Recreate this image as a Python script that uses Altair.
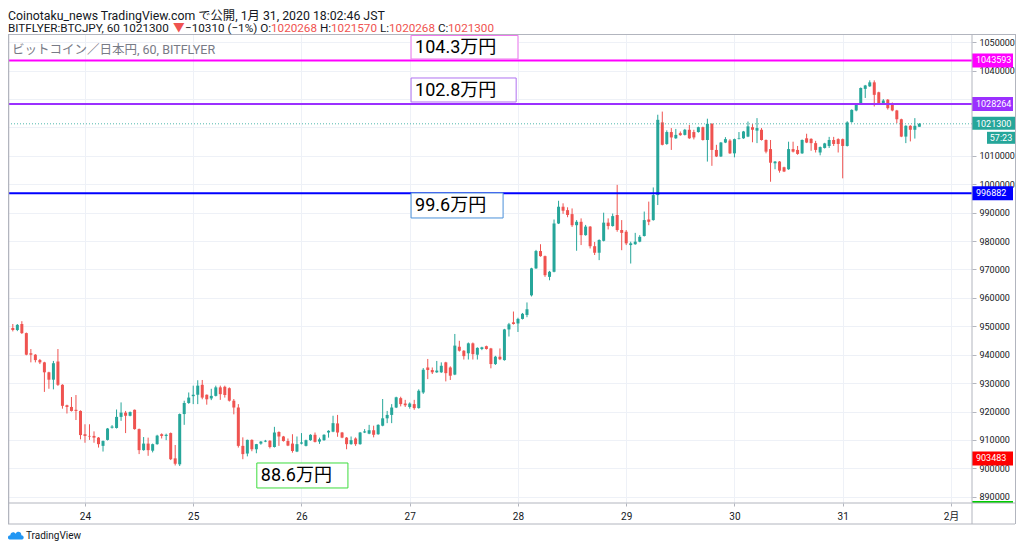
import altair as alt
import pandas as pd

# ---------------- data (BITFLYER BTC/JPY, 1h candles) ----------------
FIRST_HOUR = -16  # hours relative to Jan 24 00:00 JST

opens = [
    949400, 948700, 950800, 947600, 940500, 940000, 938100, 937300, 933800, 931200,
    937600, 929400, 922200, 921600, 920600, 920200, 912000, 911400, 911400, 910800,
    907900, 910000, 914300, 914200, 918100, 919600, 918500, 920600, 913800, 906400,
    908700, 906200, 908500, 912000, 911400, 912400, 903500, 901400, 919100, 923000,
    925400, 925900, 929400, 925900, 924600, 925500, 928500, 928700, 928200, 923800,
    921400, 907900, 905200, 910000, 906700, 908700, 909400, 909700, 907500, 912800,
    911200, 909600, 908700, 905900, 908700, 907900, 909900, 911800, 909400, 909900,
    912600, 912900, 915800, 912600, 910800, 908500, 910500, 908500, 912600, 912200,
    913400, 912000, 915000, 917600, 918800, 921400, 924700, 922800, 921600, 922600,
    921200, 926700, 935500, 934600, 933800, 933800, 937300, 935500, 933000, 942800,
    941400, 940500, 944000, 940000, 942000, 943000, 942200, 936700, 939300, 938100,
    948900, 951400, 951000, 952600, 954000, 960900, 970400, 976500, 974700, 967400,
    969200, 986200, 992100, 990900, 989500, 985600, 986800, 982100, 985100, 978200,
    975900, 980100, 986500, 985300, 989200, 983900, 983300, 978600, 978900, 979800,
    981800, 987600, 987400, 996200, 1021800, 1014200, 1018400, 1016200, 1018000, 1017400,
    1019200, 1018400, 1018400, 1020100, 1015600, 1021300, 1012100, 1009800, 1014700, 1015400,
    1010900, 1016000, 1016200, 1016800, 1020100, 1018900, 1019200, 1015600, 1012400, 1007400,
    1008000, 1006000, 1005300, 1012400, 1012100, 1010900, 1016200, 1016000, 1014500, 1011200,
    1012800, 1013500, 1015600, 1015900, 1015900, 1013500, 1021900, 1026000, 1028200, 1033600,
    1034500, 1035900, 1032400, 1028600, 1029800, 1028600, 1026000, 1022900, 1016800, 1020600,
    1019200, 1020268,
]
highs = [
    950800, 950800, 951800, 947800, 942000, 940200, 938500, 937500, 934000, 937800,
    942000, 929600, 922400, 925100, 925800, 920400, 915500, 915500, 913000, 911000,
    909800, 914200, 915200, 920700, 923200, 920200, 920000, 920700, 914000, 911000,
    910800, 908700, 911800, 912300, 912200, 912600, 908200, 919300, 923800, 926700,
    929100, 931000, 931100, 926000, 928000, 929100, 929100, 929100, 928500, 924400,
    922600, 910900, 910100, 910200, 908600, 909600, 910000, 909900, 914600, 913000,
    911400, 910500, 912000, 911200, 912400, 910100, 912000, 912600, 910800, 912000,
    913400, 918500, 918800, 912800, 911000, 911200, 910900, 912800, 913800, 915300,
    915000, 915500, 924400, 920200, 922600, 925200, 925200, 924100, 923200, 924100,
    927800, 935300, 938500, 935500, 937800, 937300, 937500, 935900, 947300, 944900,
    941600, 944300, 944300, 942600, 942800, 943200, 942400, 939600, 942200, 949100,
    951200, 955200, 953000, 954700, 958400, 970600, 976900, 978900, 974900, 969500,
    987600, 994200, 993300, 991900, 991500, 987400, 988000, 985700, 985300, 979700,
    980600, 990000, 988000, 989700, 999800, 987400, 983900, 979800, 982900, 982100,
    990400, 993900, 998900, 1024500, 1025600, 1019000, 1019800, 1019500, 1018600, 1019500,
    1020900, 1019200, 1020300, 1020300, 1023100, 1021500, 1013900, 1014900, 1016600, 1015900,
    1016100, 1018400, 1018800, 1022100, 1021200, 1023300, 1019800, 1015800, 1015600, 1008200,
    1008200, 1006200, 1015000, 1015000, 1013500, 1015800, 1017800, 1016200, 1015300, 1013300,
    1014600, 1016700, 1016700, 1016200, 1016100, 1022200, 1026400, 1028600, 1034100, 1035000,
    1036600, 1036600, 1032600, 1030000, 1030000, 1028800, 1026200, 1023100, 1020800, 1020800,
    1023300, 1021570,
]
lows = [
    948200, 948300, 947300, 939800, 937300, 937300, 936700, 926900, 928000, 927800,
    929000, 921000, 919300, 920000, 917000, 910200, 909000, 910000, 909000, 907300,
    905900, 909800, 914000, 914000, 916700, 912400, 918300, 913600, 905000, 906200,
    904400, 905600, 908300, 910500, 909900, 902900, 901000, 900800, 915300, 922700,
    922600, 922600, 924300, 922400, 924000, 925300, 924100, 924900, 923500, 919000,
    907300, 903200, 904200, 906000, 905300, 908300, 909200, 907000, 907300, 907900,
    909400, 907800, 905500, 905700, 908400, 907700, 909700, 909100, 908600, 909700,
    910800, 912700, 911100, 910600, 906700, 908300, 907900, 908300, 912400, 912000,
    910900, 911800, 914800, 915900, 915900, 921200, 921800, 921600, 921000, 920600,
    921000, 926200, 931400, 933200, 933600, 933600, 930600, 931100, 932800, 941100,
    938300, 938300, 938300, 938300, 941600, 941800, 935200, 936400, 938100, 937900,
    946400, 950600, 948000, 952400, 953200, 960500, 970200, 974500, 967400, 966200,
    969000, 986000, 989600, 988400, 985000, 976600, 978600, 981900, 977400, 975100,
    973300, 979900, 984100, 985100, 983300, 976800, 978600, 972100, 978700, 979600,
    981600, 985600, 987200, 992700, 1013700, 1013900, 1012100, 1016000, 1017100, 1017200,
    1016000, 1015800, 1018200, 1015400, 1008000, 1006500, 1009600, 1009600, 1014500, 1010700,
    1009500, 1015800, 1016000, 1016600, 1014800, 1014500, 1015400, 1010900, 1000900, 1005300,
    1004100, 1004300, 1005100, 1011200, 1010400, 1010700, 1014500, 1011800, 1011200, 1010200,
    1012600, 1012800, 1013500, 1011200, 1002100, 1013300, 1021700, 1025700, 1028000, 1030400,
    1034300, 1027400, 1028100, 1028400, 1026300, 1025700, 1021500, 1016600, 1014500, 1015100,
    1016100, 1020268,
]
closes = [
    948700, 950500, 947600, 940000, 940000, 938100, 937300, 933800, 931200, 937000,
    929400, 922000, 921600, 920200, 920200, 911700, 911400, 911200, 910800, 908500,
    909600, 914000, 914700, 918100, 919600, 918500, 919800, 913800, 906400, 908700,
    906400, 908500, 911500, 911400, 911800, 903200, 901600, 919100, 923000, 924900,
    925900, 929100, 924900, 924300, 925500, 928500, 926100, 925800, 923800, 921400,
    907900, 905000, 910000, 906700, 908500, 909400, 909700, 907500, 912600, 911200,
    909600, 908000, 906100, 908500, 909100, 909900, 911800, 909300, 910200, 911800,
    913200, 915900, 912600, 910800, 908500, 909900, 908500, 912600, 913000, 913400,
    911800, 915300, 917600, 918800, 921400, 925000, 922600, 922200, 922800, 921200,
    927300, 934700, 934600, 933800, 934400, 936100, 933500, 932600, 943200, 941400,
    939500, 944000, 940200, 942400, 942600, 942000, 936700, 939300, 938400, 948900,
    950700, 950800, 952600, 954400, 956000, 970400, 976500, 974700, 968000, 969200,
    986200, 992100, 990700, 989200, 985600, 986800, 982100, 985100, 978200, 975900,
    980400, 986500, 985300, 988800, 983900, 982900, 979200, 979200, 979800, 981500,
    987400, 986800, 996200, 1022700, 1013900, 1018400, 1016500, 1017400, 1017300, 1019200,
    1016200, 1016500, 1020100, 1015600, 1021300, 1012100, 1009800, 1014700, 1015900, 1010900,
    1015900, 1016200, 1018600, 1020400, 1019200, 1019800, 1015600, 1011500, 1007600, 1008000,
    1004800, 1004500, 1012400, 1011500, 1010700, 1015600, 1014700, 1014500, 1012100, 1013100,
    1014400, 1015600, 1014200, 1014200, 1013500, 1021800, 1026200, 1028200, 1033900, 1034800,
    1035900, 1031500, 1028600, 1029500, 1026800, 1026000, 1022900, 1016800, 1020600, 1019200,
    1020600, 1021300,
]

day_hours = [0, 24, 48, 72, 96, 120, 144, 168, 192]
day_labels = ["24", "25", "26", "27", "28", "29", "30", "31", "2月"]
price_ticks = list(range(890000, 1050001, 10000))
covered_ticks = [1020000, 1030000]  # labels hidden behind the price tags

level_prices = [1043593, 1028264, 996882]
level_colors = ["#ff00ff", "#9b30ff", "#0000ff"]
last_price = 1021300

ann_text = ["104.3万円", "102.8万円", "99.6万円", "88.6万円"]
ann_h0 = [72.3, 72.3, 72.3, 38.1]
ann_h1 = [96.0, 95.6, 92.7, 58.3]
ann_top = [1052400, 1037430, 996940, 901870]
ann_bot = [1044120, 1028980, 988140, 893070]
ann_color = ["#ee77ee", "#b071f0", "#4a90d9", "#3ddc3d"]

tag_prices = [1043593, 1028264, 996882, 903483]
tag_colors = ["#ff00ff", "#9b30ff", "#0000ff", "#ff0000"]
hidden_tag_price = 886000  # 88.6万 line, below the visible range

# ---------------- styling ----------------
FONT = "Roboto, 'Noto Sans CJK JP', sans-serif"
UP, DOWN = "#26a69a", "#ef5350"
W, H = 964, 469
FRAME = "#b2b5be"

hours = list(range(FIRST_HOUR, FIRST_HOUR + len(opens)))
df = pd.DataFrame({"h": hours, "o": opens, "hi": highs, "lo": lows, "c": closes})
df["dir"] = ["up" if c >= o else "down" for o, c in zip(opens, closes)]

xs = alt.Scale(domain=[-17.07, 196.67], nice=False, zero=False, padding=0)
ys = alt.Scale(domain=[887782, 1052922], nice=False, zero=False, padding=0)

label_expr = "[" + ",".join("'%s'" % l for l in day_labels) + "][round(datum.value/24)]"
ylabel_expr = " || ".join("datum.value == %d" % v for v in covered_ticks) + " ? '' : datum.label"
xaxis = alt.Axis(values=day_hours, labelExpr=label_expr, title=None, grid=True,
                 gridColor="#eef1f7", domain=False, tickSize=3, tickColor=FRAME,
                 labelFontSize=10, labelColor="#131722", labelFont=FONT,
                 labelPadding=5, labelFlush=False, labelOverlap=False)
yaxis = alt.Axis(orient="right", values=price_ticks, format="d", labelExpr=ylabel_expr,
                 title=None, grid=True,
                 gridColor="#eef1f7", domain=False, tickSize=4, tickColor=FRAME,
                 labelFontSize=9, labelColor="#131722", labelFont=FONT,
                 labelPadding=3, labelOverlap=False)

X = alt.X("h:Q", scale=xs, axis=xaxis)
dir_color = alt.Color("dir:N", scale=alt.Scale(domain=["up", "down"], range=[UP, DOWN]), legend=None)

wicks = alt.Chart(df).mark_rule(strokeWidth=1).encode(
    x=X, y=alt.Y("lo:Q", scale=ys, axis=yaxis), y2="hi:Q", color=dir_color)
bodies = alt.Chart(df).mark_bar(width=3).encode(
    x=X, y=alt.Y("o:Q", scale=ys, axis=yaxis), y2="c:Q", color=dir_color)

lv = pd.DataFrame({"p": level_prices, "col": level_colors})
levels = alt.Chart(lv).mark_rule(strokeWidth=2).encode(
    y=alt.Y("p:Q", scale=ys, axis=yaxis), color=alt.Color("col:N", scale=None))

lp = pd.DataFrame({"p": [last_price]})
last_line = alt.Chart(lp).mark_rule(strokeWidth=1, strokeDash=[1, 2], color=UP, opacity=0.8).encode(
    y=alt.Y("p:Q", scale=ys, axis=yaxis))

an = pd.DataFrame({"t": ann_text, "h0": ann_h0, "h1": ann_h1, "top": ann_top,
                   "bot": ann_bot, "col": ann_color})
an["mid"] = (an["top"] + an["bot"]) / 2
ann_box = alt.Chart(an).mark_rect(fill="white", strokeWidth=1).encode(
    x=alt.X("h0:Q", scale=xs, axis=xaxis), x2="h1:Q",
    y=alt.Y("top:Q", scale=ys, axis=yaxis), y2="bot:Q",
    stroke=alt.Stroke("col:N", scale=None))
ann_txt = alt.Chart(an).mark_text(align="left", baseline="middle", dx=4, dy=1, fontSize=18,
                                  font=FONT, color="#000000").encode(
    x=alt.X("h0:Q", scale=xs, axis=xaxis), y=alt.Y("mid:Q", scale=ys, axis=yaxis), text="t:N")

tg = pd.DataFrame({"p": tag_prices, "col": tag_colors, "t": [str(p) for p in tag_prices]})
tag_rect = alt.Chart(tg).mark_rect(yOffset=-7, y2Offset=7).encode(
    x=alt.value(W), x2=alt.value(W + 41),
    y=alt.Y("p:Q", scale=ys, axis=yaxis), y2="p:Q", fill=alt.Fill("col:N", scale=None))
tag_txt = alt.Chart(tg).mark_text(align="left", baseline="middle", fontSize=9, font=FONT,
                                  color="white").encode(
    x=alt.value(W + 4), y=alt.Y("p:Q", scale=ys, axis=yaxis), text="t:N")

lt = pd.DataFrame({"p": [last_price], "t": [str(last_price)], "cd": ["57:23"]})
last_rect = alt.Chart(lt).mark_rect(yOffset=-7, y2Offset=6, color=UP).encode(
    x=alt.value(W), x2=alt.value(W + 44),
    y=alt.Y("p:Q", scale=ys, axis=yaxis), y2="p:Q")
last_txt = alt.Chart(lt).mark_text(align="left", baseline="middle", fontSize=9, font=FONT,
                                   color="white").encode(
    x=alt.value(W + 4), y=alt.Y("p:Q", scale=ys, axis=yaxis), text="t:N")
cd_rect = alt.Chart(lt).mark_rect(yOffset=8, y2Offset=20, color=UP).encode(
    x=alt.value(W + 15), x2=alt.value(W + 44),
    y=alt.Y("p:Q", scale=ys, axis=yaxis), y2="p:Q")
cd_txt = alt.Chart(lt).mark_text(align="center", baseline="middle", fontSize=9, font=FONT,
                                 color="white", dy=14).encode(
    x=alt.value(W + 29), y=alt.Y("p:Q", scale=ys, axis=yaxis), text="cd:N")

ht = pd.DataFrame({"p": [hidden_tag_price]})
hidden_tag = alt.Chart(ht).mark_rect(yOffset=-7, color="#00cc00").encode(
    x=alt.value(W), x2=alt.value(W + 41),
    y=alt.Y("p:Q", scale=ys, axis=yaxis), y2=alt.value(H))

one = pd.DataFrame({"k": [0]})


def rule(x, x2, y, y2, w=1, col=FRAME):
    return alt.Chart(one).mark_rule(strokeWidth=w, color=col).encode(
        x=alt.value(x), x2=alt.value(x2), y=alt.value(y), y2=alt.value(y2))


frame = [
    rule(0, 1007, 0.5, 0.5),
    rule(0, 1007, H, H),
    rule(0, 1007, H + 21, H + 21),
    rule(0.5, 0.5, 0, H + 21, 1.5),
    rule(W, W, 0, H + 21),
    rule(1007.5, 1007.5, 0, H + 21),
]


def text(t, x, y, size, col="#131722", align="left"):
    return alt.Chart(one).mark_text(text=t, align=align, baseline="middle", fontSize=size,
                                    font=FONT, color=col).encode(
        x=alt.value(x), y=alt.value(y))


header = [text("Coinotaku_news TradingView.com で公開, 1月 31, 2020 18:02:46 JST", 0, -18.5, 12.3)]
seg_text = ["BITFLYER:BTCJPY, 60 1021300", "▼", "−10310 (−1%) O:", "1020268", "H:",
            "1021570", "L:", "1020268", "C:", "1021300"]
seg_x = [0, 165, 177, 263, 312, 323, 372, 381, 430, 440]
seg_col = ["#131722", DOWN, "#131722", DOWN, "#131722", DOWN, "#131722", DOWN, "#131722", DOWN]
for t, x, c in zip(seg_text, seg_x, seg_col):
    header.append(text(t, x, -6.5, 11.7, c))

legend_txt = text("ビットコイン／日本円, 60, BITFLYER", 4, 16, 12.5, "#787b86")

logo_path = ("M-0.85,0.45 C-1.15,0.45 -1.15,-0.1 -0.75,-0.1 C-0.75,-0.55 -0.2,-0.65 -0.05,-0.3 "
             "C0.15,-0.75 0.75,-0.6 0.7,-0.1 C1.1,-0.1 1.1,0.45 0.8,0.45 Z")
logo = alt.Chart(one).mark_point(shape=logo_path, size=230, filled=True, color="#2196f3",
                                 opacity=1).encode(x=alt.value(8), y=alt.value(502))
logo_txt = text("TradingView", 18, 502, 10, "#131722")

layers = [wicks, bodies, levels, last_line, ann_box, ann_txt,
          tag_rect, tag_txt, hidden_tag, last_rect, last_txt, cd_rect, cd_txt,
          legend_txt, logo, logo_txt] + frame + header

chart = alt.layer(*layers).properties(
    width=W, height=H,
    autosize=alt.AutoSizeParams(type="none"),
    padding={"left": 0, "top": 26, "right": 44, "bottom": 41},
    background="white",
).configure_view(stroke=None)

chart.save("out.html", embed_options={"renderer": "svg", "actions": False})
